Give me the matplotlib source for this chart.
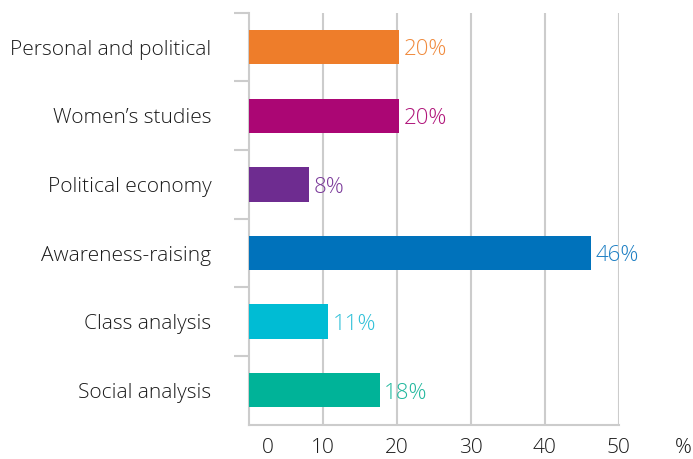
import matplotlib
matplotlib.use("Agg")
import matplotlib.pyplot as plt
from matplotlib.transforms import ScaledTranslation

# data, top to bottom
categories = ["Personal and political", "Women\u2019s studies", "Political economy",
              "Awareness-raising", "Class analysis", "Social analysis"]
values = [20.3, 20.3, 8.2, 46.2, 10.7, 17.7]
value_labels = ["20%", "20%", "8%", "46%", "11%", "18%"]
bar_colors = ["#EE7D2A", "#AB0674", "#6E2C90", "#0072BB", "#00BCD4", "#00B398"]
label_colors = ["#F08A3C", "#B0157A", "#7B3A9A", "#1F80C4", "#2EC0D8", "#22B89E"]
xticks = [0, 10, 20, 30, 40, 50]

plt.rcParams["font.family"] = ["Open Sans", "DejaVu Sans"]
plt.rcParams["font.weight"] = 300
grid_c = "#CCCCCC"
text_c = "#1A1A1A"

fig = plt.figure(figsize=(6.93, 4.59), dpi=100)
ax = fig.add_axes([0.359, 0.075, 0.534, 0.897])

ypos = list(range(len(categories)))
ax.barh(ypos, values, height=0.5, color=bar_colors, zorder=3)
for y, v, lab, c in zip(ypos, values, value_labels, label_colors):
    ax.text(v + 0.6, y + 0.04, lab, color=c, fontsize=16,
            va="center", ha="left", zorder=4)

ax.set_xlim(0, 50)
ax.set_ylim(len(categories) - 0.5, -0.5)

# vertical gridlines
for t in xticks[1:]:
    ax.axvline(t, color=grid_c, lw=1.5, zorder=1)

for s in ["top", "right"]:
    ax.spines[s].set_visible(False)
ax.spines["left"].set_color(grid_c)
ax.spines["left"].set_linewidth(1.5)
ax.spines["bottom"].set_color(grid_c)
ax.spines["bottom"].set_linewidth(1.5)

# y labels and category separators
ax.set_yticks(ypos)
ax.set_yticklabels(categories, fontsize=15, color=text_c)
ax.tick_params(axis="y", which="major", length=0, pad=27)
ax.set_yticks([i - 0.5 for i in range(len(categories))], minor=True)
ax.tick_params(axis="y", which="minor", length=11, width=1.5, color=grid_c)

# x ticks
ax.set_xticks(xticks)
ax.set_xticklabels([str(t) for t in xticks], fontsize=15, color=text_c)
ax.tick_params(axis="x", length=0, pad=10)
first = ax.get_xticklabels()[0]
first.set_transform(first.get_transform() + ScaledTranslation(0.19, 0, fig.dpi_scale_trans))

ax.text(58.7, 0, "%", transform=ax.get_xaxis_text1_transform(10)[0],
        fontsize=15, color=text_c, ha="center", va="top")

fig.savefig("out.png", dpi=100)
